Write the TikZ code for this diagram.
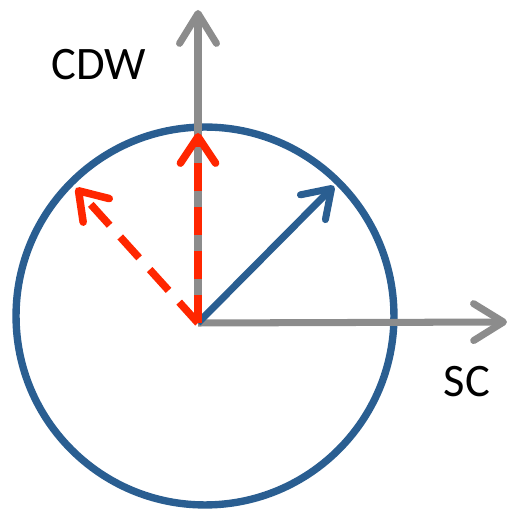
\documentclass[tikz,border=0pt]{standalone}
\usepackage{fontspec}
\setmainfont{Carlito}
\usetikzlibrary{arrows.meta}

\definecolor{axisgray}{RGB}{140,140,140}
\definecolor{orderblue}{RGB}{42,94,145}
\definecolor{rotred}{RGB}{255,38,0}

\begin{document}
\begin{tikzpicture}[
    x=0.02cm, y=-0.02cm,
    axis/.style={axisgray, line width=4pt, -{Straight Barb[length=17pt, width=21pt, round]}},
    ring/.style={orderblue, line width=4.2pt},
    vec/.style={orderblue, line width=4pt, -{Straight Barb[length=15pt, width=20pt, round]}},
    rot/.style={rotred, line width=4.3pt, dash pattern=on 16pt off 9pt, -{Straight Barb[length=15pt, width=20pt, round]}},
    lbl/.style={font=\fontsize{26.5}{32}\selectfont, text=black}
]
    \useasboundingbox (0,0) rectangle (512,510);

    % origin and end points
    \coordinate (o) at (198,323);
    \coordinate (ctr) at (205,316);
    \coordinate (cdwend) at (198,10);
    \coordinate (scend) at (507,322);
    \coordinate (vtip) at (334,186);
    \coordinate (uptip) at (198,133);
    \coordinate (lefttip) at (76,188);

    % order-parameter circle
    \draw[ring] (ctr) circle[radius=3.78cm];

    % axes
    \draw[axis] (o) -- (cdwend);
    \draw[axis] (o) -- (scend);

    % vectors
    \draw[vec] (o) -- (vtip);
    \draw[rot] (o) -- (uptip);
    \draw[rot] (o) -- (lefttip);

    % labels
    \node[lbl] (cdw) at (99,65) {CDW};
    \node[lbl] (sc) at (467,382) {SC};

\end{tikzpicture}
\end{document}
